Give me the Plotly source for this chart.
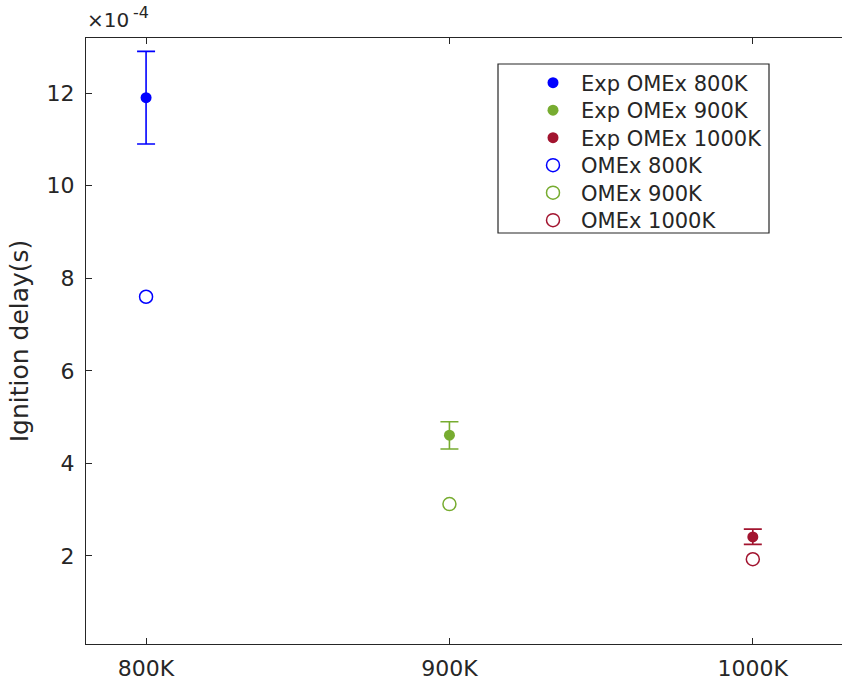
import plotly.graph_objects as go

# Data (ignition delay in seconds)
temps = [800, 900, 1000]
labels_exp = ["Exp OMEx 800K", "Exp OMEx 900K", "Exp OMEx 1000K"]
labels_sim = ["OMEx 800K", "OMEx 900K", "OMEx 1000K"]
exp_delay = [11.9e-4, 4.61e-4, 2.41e-4]
exp_err_plus = [1.0e-4, 0.29e-4, 0.17e-4]
exp_err_minus = [1.0e-4, 0.30e-4, 0.16e-4]
sim_delay = [7.6e-4, 3.12e-4, 1.93e-4]
colors = ["#0000FF", "#77AC30", "#A2142F"]

xtick_vals = [800, 900, 1000]
xtick_text = ["800K", "900K", "1000K"]
ytick_vals = [2e-4, 4e-4, 6e-4, 8e-4, 10e-4, 12e-4]
ytick_text = ["2", "4", "6", "8", "10", "12"]

FONT = "DejaVu Sans"
TXT = "#262626"

# plot area in pixels: x 86..842, y 38..644
def px_x(p):
    return (p - 86) / 756.0

def px_y(p):
    return (644 - p) / 606.0

legend_names = ["legend", "legend2", "legend3", "legend4", "legend5", "legend6"]
row_y = [83.0, 110.5, 138.0, 165.5, 193.0, 220.5]

fig = go.Figure()
for i in range(3):
    fig.add_trace(go.Scatter(
        x=[temps[i]], y=[exp_delay[i]], mode="markers", name=labels_exp[i],
        legend=legend_names[i],
        marker=dict(color=colors[i], size=11, symbol="circle"),
        error_y=dict(type="data", symmetric=False, array=[exp_err_plus[i]],
                     arrayminus=[exp_err_minus[i]], color=colors[i],
                     thickness=1.6, width=9),
    ))
for i in range(3):
    fig.add_trace(go.Scatter(
        x=[temps[i]], y=[sim_delay[i]], mode="markers", name=labels_sim[i],
        legend=legend_names[3 + i],
        marker=dict(color=colors[i], size=13, symbol="circle-open",
                    line=dict(color=colors[i], width=1.5)),
    ))

legend_cfg = {}
for k, name in enumerate(legend_names):
    legend_cfg[name] = dict(
        x=px_x(525), y=px_y(row_y[k]), xanchor="left", yanchor="middle",
        xref="paper", yref="paper",
        bgcolor="rgba(0,0,0,0)", borderwidth=0,
        font=dict(family=FONT, size=21, color=TXT),
        itemwidth=46,
    )

fig.update_layout(
    width=842, height=684,
    margin=dict(l=86, r=0, t=38, b=40),
    paper_bgcolor="white", plot_bgcolor="white",
    font=dict(family=FONT, size=20, color=TXT),
    showlegend=True,
    xaxis=dict(
        range=[780.2, 1029.4], tickvals=xtick_vals, ticktext=xtick_text,
        showgrid=False, zeroline=False, showline=True, linecolor=TXT, linewidth=1.3,
        mirror="ticks", ticks="inside", ticklen=6, tickcolor=TXT, tickwidth=1.2,
        tickfont=dict(family=FONT, size=22, color=TXT), ticklabelstandoff=4,
    ),
    yaxis=dict(
        range=[0.098e-4, 13.19e-4], tickvals=ytick_vals, ticktext=ytick_text,
        showgrid=False, zeroline=False, showline=True, linecolor=TXT, linewidth=1.3,
        mirror=False, ticks="inside", ticklen=6, tickcolor=TXT, tickwidth=1.2,
        tickfont=dict(family=FONT, size=22, color=TXT), ticklabelstandoff=6,
        title=dict(text="Ignition delay(s)", font=dict(family=FONT, size=25, color=TXT),
                   standoff=10),
    ),
    shapes=[dict(
        type="rect", xref="paper", yref="paper",
        x0=px_x(498), x1=px_x(769), y0=px_y(233), y1=px_y(64),
        line=dict(color=TXT, width=1.2), fillcolor="white", layer="above",
    )],
    annotations=[
        dict(text="×10", xref="paper", yref="paper", x=px_x(85), y=px_y(34),
             xanchor="left", yanchor="bottom", showarrow=False,
             font=dict(family=FONT, size=20, color=TXT)),
        dict(text="-4", xref="paper", yref="paper", x=px_x(131), y=px_y(24),
             xanchor="left", yanchor="bottom", showarrow=False,
             font=dict(family=FONT, size=16, color=TXT)),
    ],
    **legend_cfg,
)

fig.write_html("out.html")
